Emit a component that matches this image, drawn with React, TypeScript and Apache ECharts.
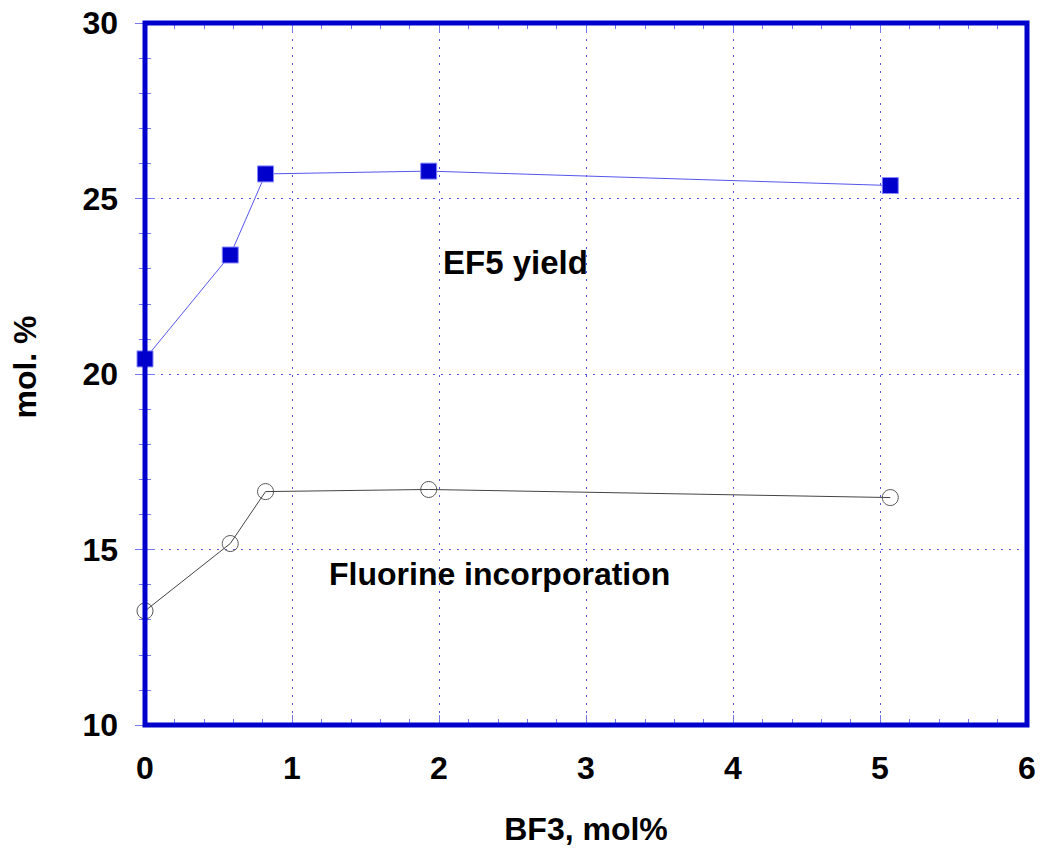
import React, { useEffect, useRef } from "react";
import * as echarts from "echarts";

const bf3 = [0, 0.58, 0.82, 1.93, 5.07];
const ef5Yield = [20.43, 23.39, 25.7, 25.78, 25.37];
const fluorineIncorp = [13.25, 15.17, 16.65, 16.71, 16.48];
const xTicks = [0, 1, 2, 3, 4, 5, 6];
const yTicks = [10, 15, 20, 25, 30];

const FONT = "Liberation Sans, Arial, sans-serif";
const BLUE = "#0000cc";
const TICK = "#7777ee";
const FS = 32;

export default function App() {
  const ref = useRef<HTMLDivElement>(null);
  useEffect(() => {
    const chart = echarts.init(ref.current!, null, { renderer: "svg" });
    const baseX = {
      type: "value",
      min: xTicks[0],
      max: xTicks[xTicks.length - 1],
      interval: 1,
      axisLine: { show: false },
      axisTick: { show: true, inside: true, length: 10, lineStyle: { color: TICK, width: 1 } },
      minorTick: { show: true, splitNumber: 5, length: 6, lineStyle: { color: TICK, width: 1 } },
    };
    const baseY = {
      type: "value",
      min: yTicks[0],
      max: yTicks[yTicks.length - 1],
      interval: 5,
      axisLine: { show: false },
      axisTick: { show: true, inside: true, length: 10, lineStyle: { color: TICK, width: 1 } },
      minorTick: { show: true, splitNumber: 5, length: 6, lineStyle: { color: TICK, width: 1 } },
    };
    const L = 145, T = 23, R = 23, B = 133;
    chart.setOption({
      animation: false,
      grid: { left: L, right: R, top: T, bottom: B, show: false },
      xAxis: [
        {
          ...baseX,
          position: "bottom",
          name: "BF3, mol%",
          nameLocation: "middle",
          nameGap: 88,
          nameTextStyle: { fontFamily: FONT, fontWeight: "bold", fontSize: FS, color: "#000" },
          axisLabel: {
            margin: 27,
            fontFamily: FONT,
            fontWeight: "bold",
            fontSize: FS,
            color: "#000",
            formatter: (v: number) => String(v),
          },
          splitLine: { show: true, lineStyle: { color: "#5555dd", type: [2, 6], width: 1 } },
        },
        {
          ...baseX,
          position: "top",
          axisLabel: { show: false },
          splitLine: { show: false },
        },
      ],
      yAxis: [
        {
          ...baseY,
          position: "left",
          name: "mol. %",
          nameLocation: "middle",
          nameGap: 104,
          nameRotate: 90,
          nameTextStyle: {
            fontFamily: FONT,
            fontWeight: "bold",
            fontSize: FS,
            color: "#000",
            padding: [0, 0, 0, 14],
          },
          axisLabel: {
            margin: 27,
            fontFamily: FONT,
            fontWeight: "bold",
            fontSize: FS,
            color: "#000",
          },
          splitLine: { show: true, lineStyle: { color: "#5555dd", type: [2, 6], width: 1 } },
        },
        {
          ...baseY,
          position: "right",
          axisLabel: { show: false },
          splitLine: { show: false },
        },
      ],
      series: [
        {
          type: "line",
          data: bf3.map((x, i) => [x, ef5Yield[i]]),
          symbol: "rect",
          symbolSize: 16,
          itemStyle: { color: BLUE, borderColor: "#8888ff", borderWidth: 1 },
          lineStyle: { color: "#5555ee", width: 1 },
          z: 5,
        },
        {
          type: "line",
          data: bf3.map((x, i) => [x, fluorineIncorp[i]]),
          symbol: "circle",
          symbolSize: 16,
          showAllSymbol: true,
          itemStyle: { color: "rgba(255,255,255,0)", borderColor: "#555", borderWidth: 1 },
          lineStyle: { color: "#444", width: 1 },
          z: 5,
        },
      ],
      graphic: [
        {
          type: "rect",
          shape: { x: L, y: T, width: 1050 - L - R, height: 858 - T - B },
          style: { fill: "none", stroke: BLUE, lineWidth: 5 },
          z: 20,
        },
        {
          type: "text",
          x: 443,
          y: 262,
          style: {
            text: "EF5 yield",
            fontFamily: FONT,
            fontWeight: "bold",
            fontSize: 33,
            fill: "#000",
            verticalAlign: "middle",
          },
          z: 10,
        },
        {
          type: "text",
          x: 329,
          y: 574,
          style: {
            text: "Fluorine incorporation",
            fontFamily: FONT,
            fontWeight: "bold",
            fontSize: 32,
            fill: "#000",
            verticalAlign: "middle",
          },
          z: 10,
        },
      ],
    });
    return () => chart.dispose();
  }, []);
  return <div ref={ref} style={{ width: 1050, height: 858, position: "absolute", left: 0, top: 0 }} />;
}
